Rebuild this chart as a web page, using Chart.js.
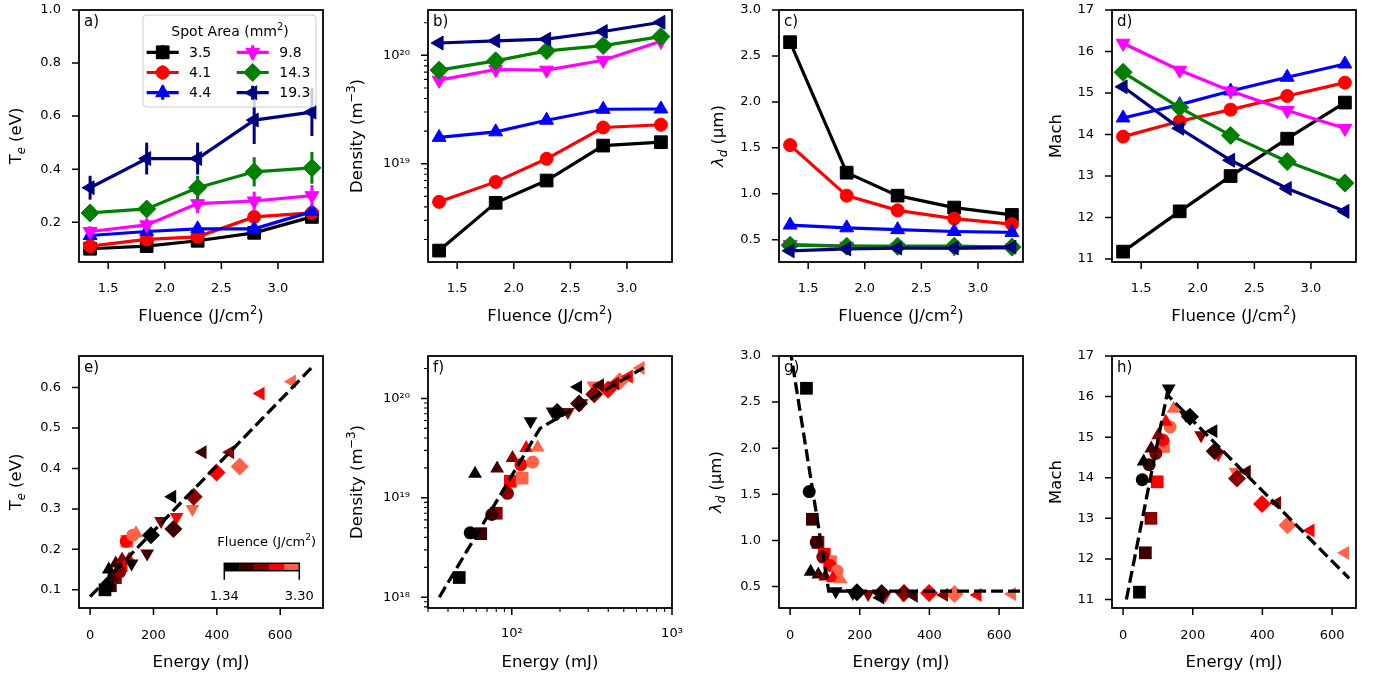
<!DOCTYPE html>
<html>
<head>
<meta charset="utf-8">
<script src="https://cdn.jsdelivr.net/npm/chart.js@4.4.1/dist/chart.umd.min.js"></script>
<style>
  html, body { margin: 0; padding: 0; background: #fff; }
  #fig { position: relative; width: 1379px; height: 680px; overflow: hidden; }
  #fig canvas { position: absolute; }
</style>
</head>
<body>
<div id="fig"></div>
<script>
// values
const fluence = [1.34, 1.84, 2.29, 2.79, 3.30];
const spotAreas = ['3.5', '4.1', '4.4', '9.8', '14.3', '19.3'];

const teValues = [
  [0.10, 0.11, 0.13, 0.16, 0.22],
  [0.11, 0.135, 0.145, 0.22, 0.235],
  [0.15, 0.165, 0.175, 0.175, 0.24],
  [0.165, 0.19, 0.27, 0.28, 0.30],
  [0.235, 0.25, 0.33, 0.39, 0.405],
  [0.33, 0.44, 0.44, 0.585, 0.615]
];
const teErrors = [
  [0.01, 0.01, 0.01, 0.015, 0.015],
  [0.01, 0.01, 0.01, 0.015, 0.015],
  [0.01, 0.01, 0.01, 0.015, 0.015],
  [0.02, 0.025, 0.035, 0.035, 0.04],
  [0.028, 0.03, 0.045, 0.055, 0.06],
  [0.045, 0.06, 0.06, 0.09, 0.09]
];
const densityValues = [
  [1.58e18, 4.36e18, 7.0e18, 1.47e19, 1.58e19],
  [4.45e18, 6.8e18, 1.11e19, 2.16e19, 2.29e19],
  [1.75e19, 1.97e19, 2.52e19, 3.18e19, 3.2e19],
  [5.9e19, 7.4e19, 7.3e19, 9.0e19, 1.35e20],
  [7.3e19, 8.9e19, 1.10e20, 1.23e20, 1.49e20],
  [1.30e20, 1.36e20, 1.41e20, 1.66e20, 2.02e20]
];
const lambdaValues = [
  [2.65, 1.23, 0.98, 0.85, 0.77],
  [1.53, 0.98, 0.82, 0.73, 0.67],
  [0.66, 0.63, 0.61, 0.59, 0.58],
  [0.45, 0.43, 0.42, 0.41, 0.41],
  [0.44, 0.43, 0.43, 0.43, 0.42],
  [0.38, 0.40, 0.41, 0.41, 0.42]
];
const machValues = [
  [11.18, 12.15, 13.0, 13.9, 14.77],
  [13.95, 14.32, 14.6, 14.93, 15.25],
  [14.4, 14.72, 15.05, 15.38, 15.7],
  [16.2, 15.55, 15.05, 14.58, 14.15],
  [15.5, 14.65, 13.98, 13.35, 12.83],
  [15.15, 14.15, 13.38, 12.7, 12.15]
];
const energyValues = [
  [47, 64, 80, 98, 116],
  [55, 75, 94, 114, 135],
  [59, 81, 101, 123, 145],
  [131, 180, 224, 273, 323],
  [192, 263, 327, 399, 472],
  [259, 355, 442, 538, 637]
];

// dashed fit lines (bottom row)
const teFitE = [0, 700];
const teFitY = [0.083, 0.65];
const densFitE = [35.3, 150, 665];
const densFitY = [1e18, 5.0e19, 2.04e20];
const lambdaFitE = [0, 111, 700];
const lambdaFitY = [3.08, 0.45, 0.45];
const machFitE = [9.5, 126, 649];
const machFitY = [11.0, 16.05, 11.52];

// ticks
const fluenceTicks = [1.5, 2.0, 2.5, 3.0];
const energyTicks = [0, 200, 400, 600];
const energyLogTicks = [100, 1000];
const energyLogMinor = [30, 40, 50, 60, 70, 80, 90, 200, 300, 400, 500, 600, 700, 800, 900];
const teTicksTop = [0.2, 0.4, 0.6, 0.8, 1.0];
const teTicksBottom = [0.1, 0.2, 0.3, 0.4, 0.5, 0.6];
const densTicksTop = [1e19, 1e20];
const densMinorTop = [2e18, 3e18, 4e18, 5e18, 6e18, 7e18, 8e18, 9e18,
  2e19, 3e19, 4e19, 5e19, 6e19, 7e19, 8e19, 9e19, 2e20];
const densTicksBottom = [1e18, 1e19, 1e20];
const densMinorBottom = [8e17, 9e17, 2e18, 3e18, 4e18, 5e18, 6e18, 7e18, 8e18, 9e18,
  2e19, 3e19, 4e19, 5e19, 6e19, 7e19, 8e19, 9e19, 2e20];
const lambdaTicks = [0.5, 1.0, 1.5, 2.0, 2.5, 3.0];
const machTicks = [11, 12, 13, 14, 15, 16, 17];

// styles
const seriesColors = ['#000000', '#ff0000', '#0000ff', '#ff00ff', '#008000', '#000080'];
const fluenceColors = ['#000000', '#3d0000', '#8b0000', '#ff0000', '#ff6347'];
const markers = [
  { style: 'rect', r: 9, rot: 0 },
  { style: 'circle', r: 6.5, rot: 0 },
  { style: 'triangle', r: 8, rot: 0 },
  { style: 'triangle', r: 8, rot: 180 },
  { style: 'rectRot', r: 9, rot: 0 },
  { style: 'triangle', r: 8, rot: 270 }
];
const FONT = '"DejaVu Sans", sans-serif';
const PW = 244, PH = 252, LEFT = 95, TOP = 10, RIGHT = 14, BOTTOM = 70;
const fig = document.getElementById('fig');
const SUP = '⁰¹²³⁴⁵⁶⁷⁸⁹';

function logLabel(v) {
  const e = String(Math.round(Math.log10(v)));
  return '10' + e.split('').map(d => SUP[+d]).join('');
}

function segFont(mode, size) {
  const small = mode && (mode.indexOf('sub') >= 0 || mode.indexOf('sup') >= 0);
  const it = mode && mode.indexOf('it') >= 0;
  const px = Math.round((small ? size * 0.7 : size) * 10) / 10;
  return (it ? 'italic ' : '') + px + 'px ' + FONT;
}

function drawRich(ctx, segs, x, y, size, rot) {
  ctx.save();
  ctx.translate(x, y);
  if (rot) ctx.rotate(rot);
  ctx.textAlign = 'left';
  ctx.textBaseline = 'alphabetic';
  ctx.fillStyle = '#000';
  let w = 0;
  segs.forEach(s => { ctx.font = segFont(s[1], size); w += ctx.measureText(s[0]).width; });
  let cx = -w / 2;
  const base = size * 0.36;
  segs.forEach(s => {
    const m = s[1] || '';
    const dy = m.indexOf('sup') >= 0 ? -size * 0.4 : (m.indexOf('sub') >= 0 ? size * 0.22 : 0);
    ctx.font = segFont(m, size);
    ctx.fillText(s[0], cx, base + dy);
    cx += ctx.measureText(s[0]).width;
  });
  ctx.restore();
}

function drawLegend(ctx, ca) {
  const x0 = ca.left + 64, y0 = ca.top + 5, w = 173, h = 92, r = 4;
  ctx.save();
  ctx.beginPath();
  ctx.moveTo(x0 + r, y0);
  ctx.arcTo(x0 + w, y0, x0 + w, y0 + h, r);
  ctx.arcTo(x0 + w, y0 + h, x0, y0 + h, r);
  ctx.arcTo(x0, y0 + h, x0, y0, r);
  ctx.arcTo(x0, y0, x0 + w, y0, r);
  ctx.closePath();
  ctx.fillStyle = 'rgba(255,255,255,0.8)';
  ctx.fill();
  ctx.strokeStyle = '#cccccc';
  ctx.lineWidth = 1;
  ctx.stroke();
  drawRich(ctx, [['Spot Area (mm'], ['2', 'sup'], [')']], ca.left + 151, ca.top + 21, 14);
  spotAreas.forEach((lab, k) => {
    const col = k < 3 ? 0 : 1, row = k % 3;
    const y = ca.top + 42.3 + row * 20.2;
    const lx0 = ca.left + (col ? 157.7 : 67.7), lx1 = lx0 + 32, mx = (lx0 + lx1) / 2;
    ctx.strokeStyle = seriesColors[k];
    ctx.fillStyle = seriesColors[k];
    ctx.lineWidth = 3.2;
    ctx.beginPath();
    ctx.moveTo(lx0, y); ctx.lineTo(lx1, y);
    ctx.moveTo(mx, y - 7); ctx.lineTo(mx, y + 7);
    ctx.stroke();
    ctx.lineWidth = 1;
    Chart.helpers.drawPoint(ctx, { pointStyle: markers[k].style, rotation: markers[k].rot, radius: markers[k].r, borderWidth: 1 }, mx, y);
    ctx.fillStyle = '#000';
    ctx.font = '14px ' + FONT;
    ctx.textAlign = 'left';
    ctx.textBaseline = 'middle';
    ctx.fillText(lab, ca.left + (col ? 200.3 : 110), y + 1);
  });
  ctx.restore();
}

function drawColorbar(ctx, ca) {
  const bx = ca.left + 145.3, by = ca.top + 207.3, bw = 75, bh = 7.4;
  ctx.save();
  fluenceColors.forEach((c, i) => {
    ctx.fillStyle = c;
    ctx.fillRect(bx + i * bw / fluenceColors.length, by, bw / fluenceColors.length + 0.5, bh);
  });
  ctx.strokeStyle = '#000';
  ctx.lineWidth = 1.5;
  ctx.strokeRect(bx, by, bw, bh);
  ctx.beginPath();
  ctx.moveTo(bx, by + bh); ctx.lineTo(bx, by + bh + 9);
  ctx.moveTo(bx + bw, by + bh); ctx.lineTo(bx + bw, by + bh + 9);
  ctx.stroke();
  ctx.fillStyle = '#000';
  ctx.font = '13px ' + FONT;
  ctx.textAlign = 'center';
  ctx.textBaseline = 'middle';
  ctx.fillText(fluence[0].toFixed(2), bx, ca.top + 241);
  ctx.fillText(fluence[fluence.length - 1].toFixed(2), bx + bw, ca.top + 241);
  drawRich(ctx, [['Fluence (J/cm'], ['2', 'sup'], [')']], ca.left + 187.7, ca.top + 185, 13);
  ctx.restore();
}

function makeDecor(d) {
  return {
    id: 'decor',
    beforeDatasetDraw(chart, args) {
      if (!d.errors || !d.errors[args.index]) return;
      const err = d.errors[args.index];
      const ds = chart.data.datasets[args.index];
      const ys = chart.scales.y, ca = chart.chartArea, ctx = chart.ctx;
      ctx.save();
      ctx.beginPath();
      ctx.rect(ca.left, ca.top, ca.right - ca.left, ca.bottom - ca.top);
      ctx.clip();
      ctx.strokeStyle = ds.borderColor;
      ctx.lineWidth = 3;
      args.meta.data.forEach((pt, i) => {
        const v = ds.data[i].y;
        ctx.beginPath();
        ctx.moveTo(pt.x, ys.getPixelForValue(v - err[i]));
        ctx.lineTo(pt.x, ys.getPixelForValue(v + err[i]));
        ctx.stroke();
      });
      ctx.restore();
    },
    afterDatasetsDraw(chart) {
      const ctx = chart.ctx, ca = chart.chartArea;
      ctx.save();
      ctx.fillStyle = '#000';
      ctx.font = '15px ' + FONT;
      ctx.textAlign = 'left';
      ctx.textBaseline = 'alphabetic';
      ctx.fillText(d.label, ca.left + 5, ca.top + 16);
      ctx.restore();
      if (d.legend) drawLegend(ctx, ca);
      if (d.colorbar) drawColorbar(ctx, ca);
    },
    afterDraw(chart) {
      const ctx = chart.ctx, ca = chart.chartArea;
      const xs = chart.scales.x, ys = chart.scales.y;
      ctx.save();
      ctx.strokeStyle = '#000';
      const tick = (vals, len, lw, horiz) => {
        ctx.lineWidth = lw;
        ctx.beginPath();
        vals.forEach(v => {
          if (horiz) {
            const p = xs.getPixelForValue(v);
            if (p < ca.left - 0.5 || p > ca.right + 0.5) return;
            ctx.moveTo(p, ca.bottom); ctx.lineTo(p, ca.bottom + len);
          } else {
            const p = ys.getPixelForValue(v);
            if (p < ca.top - 0.5 || p > ca.bottom + 0.5) return;
            ctx.moveTo(ca.left, p); ctx.lineTo(ca.left - len, p);
          }
        });
        ctx.stroke();
      };
      tick(d.xMajor, 7, 1.5, true);
      tick(d.xMinor || [], 4, 1.1, true);
      tick(d.yMajor, 7, 1.5, false);
      tick(d.yMinor || [], 4, 1.1, false);
      ctx.lineWidth = 1.8;
      ctx.strokeRect(ca.left, ca.top, ca.right - ca.left, ca.bottom - ca.top);
      ctx.restore();
      drawRich(ctx, d.xTitle, (ca.left + ca.right) / 2, ca.bottom + 53, 16.5);
      drawRich(ctx, d.yTitle, ca.left - d.yOff, (ca.top + ca.bottom) / 2, 16.5, -Math.PI / 2);
    }
  };
}

function axis(a, dir) {
  return {
    type: a.log ? 'logarithmic' : 'linear',
    position: dir === 'x' ? 'bottom' : 'left',
    min: a.min,
    max: a.max,
    bounds: 'data',
    grid: { display: false, drawTicks: false },
    border: { display: false },
    ticks: {
      autoSkip: false,
      maxRotation: 0,
      color: '#000',
      font: { family: FONT, size: 13 },
      padding: a.pad || (dir === 'x' ? 18.5 : 18),
      callback: v => a.log ? logLabel(v) : Number(v).toFixed(a.dec)
    },
    afterBuildTicks: s => { s.ticks = a.ticks.map(v => ({ value: v })); },
    afterFit: s => {
      if (dir === 'x') s.height = BOTTOM; else s.width = LEFT;
      s.paddingTop = 0; s.paddingBottom = 0; s.paddingLeft = 0; s.paddingRight = 0;
    }
  };
}

function topSets(values) {
  return values.map((vals, k) => ({
    label: spotAreas[k],
    data: vals.map((v, i) => ({ x: fluence[i], y: v })),
    showLine: true,
    borderColor: seriesColors[k],
    backgroundColor: seriesColors[k],
    borderWidth: 3.2,
    pointStyle: markers[k].style,
    pointRadius: markers[k].r,
    pointRotation: markers[k].rot,
    pointBackgroundColor: seriesColors[k],
    pointBorderColor: seriesColors[k],
    pointBorderWidth: 1,
    order: 10 - k,
    clip: 0
  }));
}

function bottomSets(values, fitE, fitY) {
  const sets = values.map((vals, k) => ({
    label: spotAreas[k],
    data: vals.map((v, i) => ({ x: energyValues[k][i], y: v })),
    showLine: false,
    pointStyle: markers[k].style,
    pointRadius: markers[k].r,
    pointRotation: markers[k].rot,
    pointBackgroundColor: fluenceColors,
    pointBorderWidth: 0,
    order: 10 - k,
    clip: 0
  }));
  sets.push({
    label: 'fit',
    data: fitE.map((e, i) => ({ x: e, y: fitY[i] })),
    showLine: true,
    borderColor: '#000',
    borderWidth: 3.3,
    borderDash: [12, 5],
    pointRadius: 0,
    order: 0,
    clip: 0
  });
  return sets;
}

function makePanel(p) {
  const W = PW + LEFT + RIGHT, H = PH + TOP + BOTTOM;
  const canvas = document.createElement('canvas');
  canvas.width = W;
  canvas.height = H;
  canvas.style.width = W + 'px';
  canvas.style.height = H + 'px';
  canvas.style.left = (p.left - LEFT) + 'px';
  canvas.style.top = (p.top - TOP) + 'px';
  fig.appendChild(canvas);
  new Chart(canvas, {
    type: 'scatter',
    data: { datasets: p.datasets },
    options: {
      responsive: false,
      animation: false,
      devicePixelRatio: 1,
      events: [],
      layout: { padding: { left: 0, top: TOP, right: RIGHT, bottom: 0 } },
      plugins: { legend: { display: false }, tooltip: { enabled: false } },
      scales: { x: axis(p.x, 'x'), y: axis(p.y, 'y') }
    },
    plugins: [makeDecor(p.decor)]
  });
}

const fluenceTitle = [['Fluence (J/cm'], ['2', 'sup'], [')']];
const energyTitle = [['Energy (mJ)']];
const teTitle = [['T'], ['e', 'itsub'], [' (eV)']];
const densTitle = [['Density (m'], ['−3', 'sup'], [')']];
const lambdaTitle = [['λ', 'it'], ['d', 'itsub'], [' (μm)']];
const machTitle = [['Mach']];
const fluenceAxis = { min: 1.242, max: 3.398, ticks: fluenceTicks, dec: 1 };
const energyAxis = { min: -31.8, max: 668.7, ticks: energyTicks, dec: 0, pad: 20 };

// top row
makePanel({
  left: 79, top: 10,
  datasets: topSets(teValues),
  x: fluenceAxis,
  y: { min: 0.05, max: 1.0, ticks: teTicksTop, dec: 1 },
  decor: { label: 'a)', xTitle: fluenceTitle, yTitle: teTitle, yOff: 64, xMajor: fluenceTicks, yMajor: teTicksTop, errors: teErrors, legend: true }
});
makePanel({
  left: 428, top: 10,
  datasets: topSets(densityValues),
  x: fluenceAxis,
  y: { log: true, min: 1.24e18, max: 2.62e20, ticks: densTicksTop },
  decor: { label: 'b)', xTitle: fluenceTitle, yTitle: densTitle, yOff: 72, xMajor: fluenceTicks, yMajor: densTicksTop, yMinor: densMinorTop }
});
makePanel({
  left: 779, top: 10,
  datasets: topSets(lambdaValues),
  x: fluenceAxis,
  y: { min: 0.258, max: 3.0, ticks: lambdaTicks, dec: 1 },
  decor: { label: 'c)', xTitle: fluenceTitle, yTitle: lambdaTitle, yOff: 62, xMajor: fluenceTicks, yMajor: lambdaTicks }
});
makePanel({
  left: 1112, top: 10,
  datasets: topSets(machValues),
  x: fluenceAxis,
  y: { min: 10.93, max: 17, ticks: machTicks, dec: 0 },
  decor: { label: 'd)', xTitle: fluenceTitle, yTitle: machTitle, yOff: 57, xMajor: fluenceTicks, yMajor: machTicks }
});

// bottom row
makePanel({
  left: 79, top: 356,
  datasets: bottomSets(teValues, teFitE, teFitY),
  x: { min: -35, max: 735, ticks: energyTicks, dec: 0, pad: 20 },
  y: { min: 0.055, max: 0.678, ticks: teTicksBottom, dec: 1 },
  decor: { label: 'e)', xTitle: energyTitle, yTitle: teTitle, yOff: 64, xMajor: energyTicks, yMajor: teTicksBottom, colorbar: true }
});
makePanel({
  left: 428, top: 356,
  datasets: bottomSets(densityValues, densFitE, densFitY),
  x: { log: true, min: 30, max: 1000, ticks: energyLogTicks, pad: 18 },
  y: { log: true, min: 7.8e17, max: 2.67e20, ticks: densTicksBottom },
  decor: { label: 'f)', xTitle: energyTitle, yTitle: densTitle, yOff: 72, xMajor: energyLogTicks, xMinor: energyLogMinor, yMajor: densTicksBottom, yMinor: densMinorBottom }
});
makePanel({
  left: 779, top: 356,
  datasets: bottomSets(lambdaValues, lambdaFitE, lambdaFitY),
  x: energyAxis,
  y: { min: 0.268, max: 3.0, ticks: lambdaTicks, dec: 1 },
  decor: { label: 'g)', xTitle: energyTitle, yTitle: lambdaTitle, yOff: 64, xMajor: energyTicks, yMajor: lambdaTicks }
});
makePanel({
  left: 1112, top: 356,
  datasets: bottomSets(machValues, machFitE, machFitY),
  x: energyAxis,
  y: { min: 10.79, max: 17, ticks: machTicks, dec: 0 },
  decor: { label: 'h)', xTitle: energyTitle, yTitle: machTitle, yOff: 57, xMajor: energyTicks, yMajor: machTicks }
});
</script>
</body>
</html>
